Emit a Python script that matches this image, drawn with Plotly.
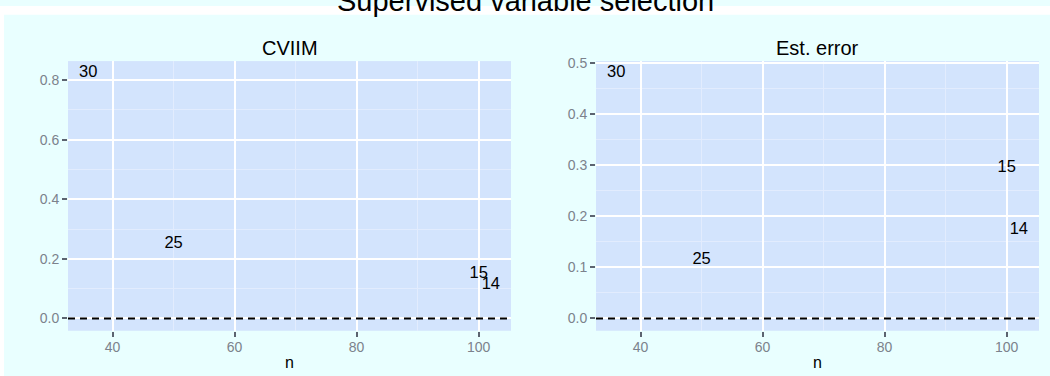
import plotly.graph_objects as go

# Data: sample size n, label (number of variables) and the two summary measures
n_obs = [36, 50, 100, 102]
point_labels = ["30", "25", "15", "14"]
cviim = [0.823, 0.252, 0.149, 0.112]
est_error = [0.480, 0.115, 0.295, 0.174]
panel_titles = ["CVIIM", "Est. error"]
y_dticks = [0.2, 0.1]
x_dtick = 20

W, H = 1050, 376
FONT = "Liberation Sans, Arial, Helvetica, sans-serif"
PAGE_BG = "#E9FFFF"
PANEL_BG = "#D3E4FD"
MINOR_GRID = "#E2ECFE"
TICK_TEXT = "#7C828C"
TICK_COLOR = "#5C6470"

x_domains = [[68 / W, 511 / W], [596 / W, 1039 / W]]
y_domain = [1 - 330 / H, 1 - 56 / H]


def padded(lo, hi, frac=0.05):
    pad = (hi - lo) * frac
    return [lo - pad, hi + pad]


fig = go.Figure()

series = [cviim, est_error]
for i, vals in enumerate(series):
    ax = "" if i == 0 else str(i + 1)
    fig.add_trace(go.Scatter(
        x=n_obs, y=vals, text=point_labels, mode="text",
        textposition="middle center",
        textfont=dict(family=FONT, size=16.5, color="black"),
        xaxis="x" + ax, yaxis="y" + ax, showlegend=False,
        hoverinfo="x+y+text",
    ))

    xr = padded(min(n_obs), max(n_obs))
    yr = padded(min(0, min(vals)), max(vals))
    common = dict(
        showline=False, zeroline=False, showgrid=True,
        gridcolor="white", gridwidth=2,
        ticks="outside", ticklen=5, tickwidth=1.5, tickcolor=TICK_COLOR,
        tickfont=dict(family=FONT, size=14, color=TICK_TEXT),
    )
    fig.update_layout({
        "xaxis" + ax: dict(
            domain=x_domains[i], range=xr, anchor="y" + ax,
            tickmode="linear", tick0=0, dtick=x_dtick,
            ticklabelstandoff=-2,
            minor=dict(tick0=0, dtick=10, showgrid=True,
                       gridcolor=MINOR_GRID, gridwidth=1, ticks=""),
            **common,
        ),
        "yaxis" + ax: dict(
            domain=y_domain, range=yr, anchor="x" + ax,
            tickmode="linear", tick0=0, dtick=y_dticks[i], tickformat=".1f",
            minor=dict(tick0=0, dtick=y_dticks[i] / 2, showgrid=True,
                       gridcolor=MINOR_GRID, gridwidth=1, ticks=""),
            **common,
        ),
    })

    # reference line at zero
    fig.add_shape(type="line", xref="x" + ax + " domain", yref="y" + ax,
                  x0=0, x1=1, y0=0, y1=0,
                  line=dict(color="black", width=1.8, dash="7px,5px"))

    # facet strip title
    fig.add_annotation(
        text=panel_titles[i], xref="paper", yref="paper",
        x=sum(x_domains[i]) / 2, y=y_domain[1], xanchor="center",
        yanchor="bottom", showarrow=False,
        font=dict(family=FONT, size=20, color="black"),
    )

    # x-axis title
    fig.add_annotation(
        text="n", xref="paper", yref="paper",
        x=sum(x_domains[i]) / 2, y=1 - 373 / H, xanchor="center",
        yanchor="bottom", showarrow=False,
        font=dict(family=FONT, size=16, color="black"),
    )

# white strips framing the page background
fig.add_shape(type="rect", xref="paper", yref="paper",
              x0=0, x1=1, y0=1 - 9 / H, y1=1,
              fillcolor="white", line=dict(width=0), layer="below")
fig.add_shape(type="rect", xref="paper", yref="paper",
              x0=0, x1=4 / W, y0=0, y1=1,
              fillcolor="white", line=dict(width=0), layer="below")

# overall title, partly above the top edge of the page
fig.add_annotation(
    text="Supervised variable selection", xref="paper", yref="paper",
    x=0.5, y=1 - 13 / H, xanchor="center", yanchor="bottom",
    showarrow=False, font=dict(family=FONT, size=29, color="black"),
)

fig.update_layout(
    width=W, height=H,
    margin=dict(l=0, r=0, t=0, b=0),
    paper_bgcolor=PAGE_BG,
    plot_bgcolor=PANEL_BG,
    font=dict(family=FONT),
)

fig.write_html("out.html")
